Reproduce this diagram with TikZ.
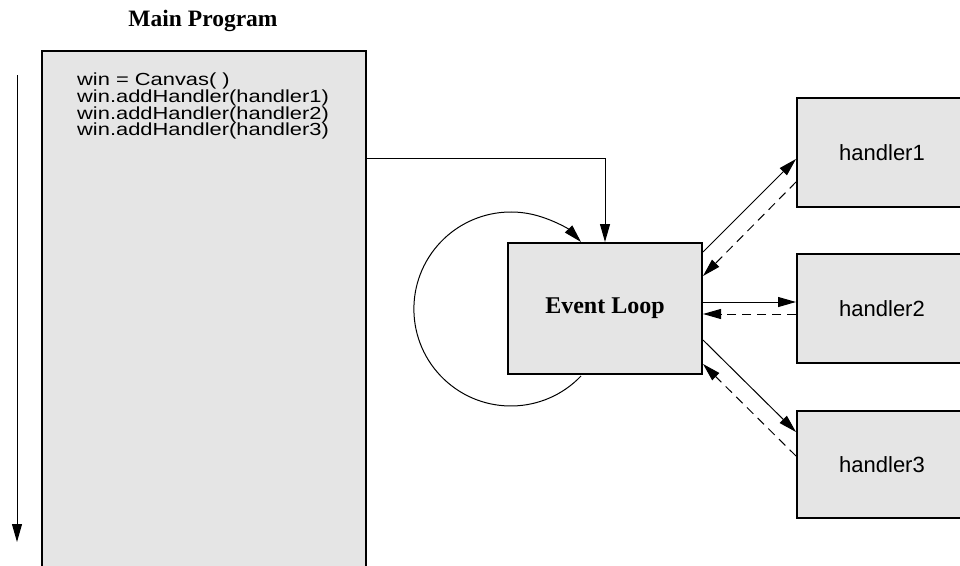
\documentclass[tikz,border=0pt]{standalone}
\usepackage{fontspec}
\setmainfont{Liberation Serif}
\newfontfamily\sansfont{Liberation Sans}
\newfontfamily\codefont[FakeStretch=1.25]{Liberation Sans}
\usetikzlibrary{arrows.meta}
\definecolor{boxgray}{RGB}{229,229,229}
\begin{document}
\begin{tikzpicture}[x=1pt,y=-1pt,
  box/.style={draw, line width=2pt, fill=boxgray, inner sep=0pt},
  hbox/.style={box, minimum width=170pt, minimum height=109pt, font=\sansfont\fontsize{22}{26}\selectfont},
  codeline/.style={anchor=base west, inner sep=0pt, font=\codefont\fontsize{17.5}{17.5}\selectfont},
  conn/.style={line width=1pt, -{Triangle[length=18pt,width=10pt]}},
  back/.style={conn, dash pattern=on 9pt off 6pt}]
\clip (0,0) rectangle (960,565);
% title
\node[anchor=base, inner sep=0pt, font=\bfseries\fontsize{23.5}{26}\selectfont] (title) at (203,26.5) {Main Program};
% main program box
\node[box, anchor=north west, minimum width=324pt, minimum height=540pt] (main) at (41,50) {};
\node[codeline] (code1) at (77,85.7) {win = Canvas( )};
\node[codeline] (code2) at (77,102.4) {win.addHandler(handler1)};
\node[codeline] (code3) at (77,119.1) {win.addHandler(handler2)};
\node[codeline] (code4) at (77,135.8) {win.addHandler(handler3)};
% flow arrow
\coordinate (flowtop) at (17,75);
\coordinate (flowend) at (17,542);
\draw[conn] (flowtop) -- (flowend);
% event loop
\node[box, minimum width=194pt, minimum height=131pt, font=\bfseries\fontsize{24}{28}\selectfont] (el) at (605,308.5) {Event Loop};
% handlers
\node[hbox] (h1) at (882,152.5) {handler1};
\node[hbox] (h2) at (882,308.5) {handler2};
\node[hbox, minimum height=107pt] (h3) at (882,464.5) {handler3};
% main -> event loop
\draw[conn] ([yshift=-108pt]main.north east) -| (el.north);
% loop arc
\coordinate (loopstart) at ([xshift=-122pt,yshift=-1pt]el.south east);
\draw[conn] (loopstart) arc[start angle=-43.7, end angle=-316.3, radius=97pt];
% handler connectors
\draw[conn] ([yshift=-10pt]el.north east) -- ([yshift=-62pt]h1.north west);
\draw[back] ([yshift=-85pt]h1.north west) -- ([yshift=-34pt]el.north east);
\draw[conn] ([yshift=6.5pt]el.east) -- ([yshift=6.5pt]h2.west);
\draw[back] ([yshift=-5.5pt]h2.west) -- ([yshift=-5.5pt]el.east);
\draw[conn] ([yshift=35pt]el.south east) -- ([yshift=-22pt]h3.north west);
\draw[back] ([yshift=-46pt]h3.north west) -- ([yshift=11pt]el.south east);
\end{tikzpicture}
\end{document}
